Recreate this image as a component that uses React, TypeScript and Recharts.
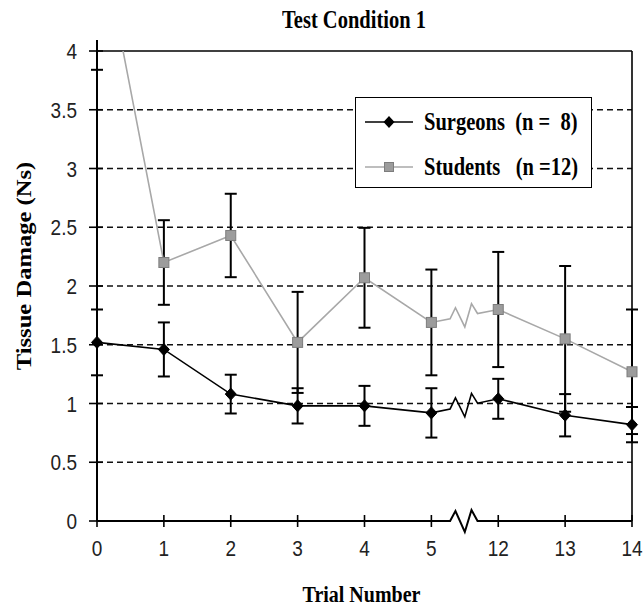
import React from 'react';
import {
  LineChart,
  Line,
  XAxis,
  YAxis,
  CartesianGrid,
  ErrorBar,
  ReferenceLine,
  ReferenceArea,
  Legend,
  Label,
} from 'recharts';

// Trial numbers shown on the x axis (the axis is broken between 5 and 12)
const trials = ['0', '1', '2', '3', '4', '5', '12', '13', '14'];

// Surgeons (n = 8): mean tissue damage and error
const surgeonMean = [1.52, 1.46, 1.08, 0.98, 0.98, 0.92, 1.04, 0.9, 0.82];
const surgeonErr = [0.28, 0.23, 0.165, 0.15, 0.17, 0.21, 0.17, 0.18, 0.15];

// Students (n = 12): mean tissue damage and error
const studentMean = [5.15, 2.2, 2.43, 1.52, 2.07, 1.69, 1.8, 1.55, 1.27];
const studentErr = [1.31, 0.36, 0.355, 0.43, 0.425, 0.45, 0.49, 0.62, 0.53];

const yTicks = [0, 0.5, 1, 1.5, 2, 2.5, 3, 3.5, 4];
const gridValues = [0.5, 1, 1.5, 2, 2.5, 3, 3.5];

const surgeonLabel = 'Surgeons  (n =  8)';
const studentLabel = 'Students   (n =12)';
const seriesOrder = ['surgeons', 'students'];

const data = trials.map((trial, i) => ({
  trial,
  surgeons: surgeonMean[i],
  surgeonsErr: surgeonErr[i],
  students: studentMean[i],
  studentsErr: studentErr[i],
}));

// index of the first category after the axis break
const breakIndex = trials.indexOf('12');

// break squiggle: [fraction along the segment, vertical offset in px]
const ZIGZAG: [number, number][] = [
  [0.28, 0],
  [0.36, -10],
  [0.5, 11],
  [0.6, -11],
  [0.69, 0],
];

// straight-segment curve that inserts the break squiggle across the gap
function brokenLinear(context: any) {
  let i = 0;
  let px = 0;
  let py = 0;
  return {
    areaStart() {},
    areaEnd() {},
    lineStart() {
      i = 0;
    },
    lineEnd() {},
    point(xIn: number, yIn: number) {
      const x = +xIn;
      const y = +yIn;
      if (i === 0) {
        context.moveTo(x, y);
      } else {
        if (i === breakIndex) {
          for (const [t, off] of ZIGZAG) {
            context.lineTo(px + (x - px) * t, py + (y - py) * t + off);
          }
        }
        context.lineTo(x, y);
      }
      px = x;
      py = y;
      i += 1;
    },
  };
}

const TICK_FONT = '"Liberation Sans Narrow", "Liberation Sans", Arial, sans-serif';
const TITLE_FONT = '"Liberation Serif", "Times New Roman", serif';
const PLOT_CLIP = 'plot-area-clip';
// text in this figure is drawn slightly taller than wide
const STRETCH = 1.2;

const XTick = (props: any) => {
  const { x, y, payload } = props;
  return (
    <g>
      <line x1={x} x2={x} y1={y - 6} y2={y + 6} stroke="#000" strokeWidth={1.6} />
      <text
        transform={`translate(${x} ${y + 27}) scale(1 ${STRETCH})`}
        textAnchor="middle"
        dominantBaseline="central"
        fontFamily={TICK_FONT}
        fontSize={19}
        fill="#222"
      >
        {payload.value}
      </text>
    </g>
  );
};

const YTick = (props: any) => {
  const { x, y, payload } = props;
  return (
    <g>
      <line x1={x - 8} x2={x + 6} y1={y} y2={y} stroke="#000" strokeWidth={1.6} />
      <text
        transform={`translate(${x - 20} ${y}) scale(1 ${STRETCH})`}
        textAnchor="end"
        dominantBaseline="central"
        fontFamily={TICK_FONT}
        fontSize={19}
        fill="#222"
      >
        {payload.value}
      </text>
    </g>
  );
};

// x axis line with the break squiggle
const XAxisPath = (props: any) => {
  const left = Math.min(props.x1, props.x2);
  const right = Math.max(props.x1, props.x2);
  const y = props.y1;
  const step = (right - left) / (trials.length - 1);
  const ax = left + step * (breakIndex - 1);
  const bx = left + step * breakIndex;
  let d = `M${left},${y} L${ax},${y}`;
  for (const [t, off] of ZIGZAG) d += ` L${ax + (bx - ax) * t},${y + off}`;
  d += ` L${right},${y}`;
  return <path d={d} stroke="#000" strokeWidth={2} fill="none" />;
};

// y axis line, running a little above the top of the plot
const YAxisPath = (props: any) => {
  const top = Math.min(props.y1, props.y2);
  const bottom = Math.max(props.y1, props.y2);
  return <line x1={props.x1} x2={props.x1} y1={top - 11} y2={bottom} stroke="#000" strokeWidth={2} />;
};

// clip region matching the plot area, used to trim error bars that run off the top
const PlotClip = (props: any) => (
  <defs>
    <clipPath id={PLOT_CLIP}>
      <rect x={props.x - 10} y={props.y} width={props.width + 20} height={props.height + 10} />
    </clipPath>
  </defs>
);

const Diamond = (props: any) => {
  const { cx, cy, index } = props;
  if (cx == null || cy == null) return <g key={`d-${index}`} />;
  return (
    <path
      key={`d-${index}`}
      d={`M${cx},${cy - 6} L${cx + 5.5},${cy} L${cx},${cy + 6} L${cx - 5.5},${cy} Z`}
      fill="#000"
      stroke="#000"
    />
  );
};

const Square = (props: any) => {
  const { cx, cy, index } = props;
  if (cx == null || cy == null) return <g key={`s-${index}`} />;
  return (
    <rect
      key={`s-${index}`}
      x={cx - 5}
      y={cy - 5}
      width={10}
      height={10}
      fill="#9c9c9c"
      stroke="#7d7d7d"
      strokeWidth={1}
    />
  );
};

const LegendBox = (props: any) => {
  const payload = [...(props.payload || [])].sort(
    (a: any, b: any) => seriesOrder.indexOf(a.dataKey) - seriesOrder.indexOf(b.dataKey),
  );
  return (
    <div
      style={{
        position: 'relative',
        width: 237,
        height: 91,
        boxSizing: 'border-box',
        border: '1.6px solid #000',
        background: '#fff',
        fontFamily: TITLE_FONT,
        fontWeight: 'bold',
        fontSize: 20.5,
        color: '#000',
      }}
    >
      {payload.map((entry: any, i: number) => {
        const isSurgeon = entry.dataKey === 'surgeons';
        return (
          <div
            key={String(entry.dataKey)}
            style={{
              position: 'absolute',
              left: 9,
              top: i === 0 ? 13 : 58,
              height: 22,
              display: 'flex',
              alignItems: 'center',
              whiteSpace: 'pre',
            }}
          >
            <svg width={48} height={14} style={{ display: 'block' }}>
              <line
                x1={0}
                x2={48}
                y1={7}
                y2={7}
                stroke={isSurgeon ? '#000' : '#a8a8a8'}
                strokeWidth={1.6}
              />
              {isSurgeon ? (
                <path d="M24,1 L29.5,7 L24,13 L18.5,7 Z" fill="#000" />
              ) : (
                <rect x={19.5} y={2.5} width={9} height={9} fill="#9c9c9c" stroke="#7d7d7d" />
              )}
            </svg>
            <span
              style={{
                marginLeft: 11,
                display: 'inline-block',
                transform: `scaleY(${STRETCH})`,
                lineHeight: '22px',
              }}
            >
              {entry.value}
            </span>
          </div>
        );
      })}
    </div>
  );
};

const YTitle = (props: any) => {
  const vb = props.viewBox || { x: 0, y: 51, width: 97, height: 470 };
  const cx = vb.x + 24;
  const cy = vb.y + vb.height / 2 - 20;
  return (
    <text
      transform={`translate(${cx} ${cy}) scale(1 ${STRETCH}) rotate(-90)`}
      textAnchor="middle"
      dominantBaseline="central"
      fontFamily={TITLE_FONT}
      fontWeight="bold"
      fontSize={20.5}
      fill="#000"
    >
      Tissue Damage (Ns)
    </text>
  );
};

const XTitle = (props: any) => {
  const vb = props.viewBox || { x: 97, y: 521, width: 535, height: 88 };
  return (
    <text
      transform={`translate(${vb.x + vb.width / 2 - 3} ${vb.y + 73}) scale(1 ${STRETCH})`}
      textAnchor="middle"
      dominantBaseline="central"
      fontFamily={TITLE_FONT}
      fontWeight="bold"
      fontSize={20}
      fill="#000"
    >
      Trial Number
    </text>
  );
};

export default function App() {
  return (
    <div style={{ position: 'absolute', left: 0, top: 0, width: 643, height: 609, background: '#fff' }}>
      <div
        style={{
          position: 'absolute',
          left: 254,
          top: 8,
          width: 200,
          textAlign: 'center',
          fontFamily: TITLE_FONT,
          fontWeight: 'bold',
          fontSize: 20.5,
          lineHeight: '24px',
          color: '#000',
          transform: `scaleY(${STRETCH})`,
          zIndex: 2,
        }}
      >
        Test Condition 1
      </div>
      <LineChart
        width={643}
        height={609}
        data={data}
        margin={{ top: 51, right: 11, bottom: 0, left: 0 }}
      >
        <CartesianGrid
          vertical={false}
          horizontalValues={gridValues}
          stroke="#111"
          strokeDasharray="6 4"
          strokeWidth={1.6}
        />
        <XAxis
          dataKey="trial"
          type="category"
          interval={0}
          height={88}
          axisLine={false}
          tickLine={false}
          tickSize={0}
          tickMargin={0}
          tick={XTick}
        >
          <Label content={XTitle} />
        </XAxis>
        <YAxis
          type="number"
          domain={[0, 4]}
          ticks={yTicks}
          allowDataOverflow
          width={97}
          axisLine={false}
          tickLine={false}
          tickSize={0}
          tickMargin={0}
          tick={YTick}
        >
          <Label content={YTitle} />
        </YAxis>
        <ReferenceArea x1="0" x2="14" y1={0} y2={4} shape={PlotClip} />
        <ReferenceLine y={4} stroke="#000" strokeWidth={1.6} />
        <ReferenceLine x="14" stroke="#000" strokeWidth={1.6} />
        <ReferenceLine y={0} shape={XAxisPath} />
        <ReferenceLine x="0" shape={YAxisPath} />
        <Line
          dataKey="surgeons"
          name={surgeonLabel}
          type={brokenLinear as any}
          stroke="#000"
          strokeWidth={1.6}
          dot={Diamond}
          activeDot={false}
          isAnimationActive={false}
        >
          <ErrorBar dataKey="surgeonsErr" width={6} stroke="#000" strokeWidth={2} direction="y" />
        </Line>
        <Line
          dataKey="students"
          name={studentLabel}
          type={brokenLinear as any}
          stroke="#a8a8a8"
          strokeWidth={1.6}
          dot={Square}
          activeDot={false}
          isAnimationActive={false}
        >
          <ErrorBar
            dataKey="studentsErr"
            width={6}
            stroke="#000"
            strokeWidth={2}
            direction="y"
            clipPath={`url(#${PLOT_CLIP})`}
          />
        </Line>
        <Legend
          layout="horizontal"
          verticalAlign="middle"
          align="center"
          content={LegendBox}
          wrapperStyle={{ left: 355, top: 97, width: 237, height: 91 }}
        />
      </LineChart>
    </div>
  );
}
